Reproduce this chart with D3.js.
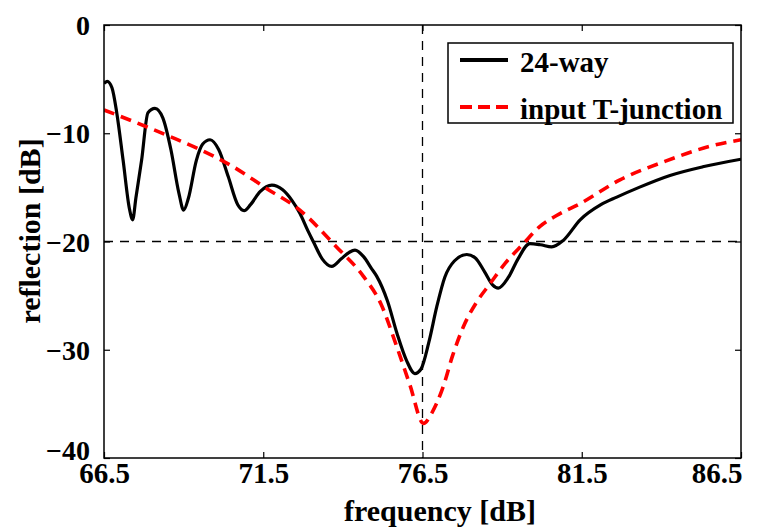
<!DOCTYPE html>
<html>
<head>
<meta charset="utf-8">
<script src="https://cdn.jsdelivr.net/npm/d3@7"></script>
<style>
  html, body { margin: 0; padding: 0; background: #fff; overflow: hidden; }
  svg { display: block; }
  svg text { font-family: 'Liberation Serif', 'Times New Roman', serif; font-weight: bold; fill: #000; }
</style>
</head>
<body>
<div id="chart"></div>
<script>
/* globals d3 */

// tick labels
const xTicks = [66.5, 71.5, 76.5, 81.5, 86.5]
const yTicks = [0, -10, -20, -30, -40]
const seriesNames = ['24-way', 'input T-junction']

// 24-way reflection
const wayFreq = [66.5, 66.6, 66.75, 66.9, 67.1, 67.3, 67.4, 67.5, 67.68, 67.88, 68.1, 68.35, 68.6, 68.85, 69.0,
  69.15, 69.4, 69.6, 69.83, 70.1, 70.4, 70.7, 70.9, 71.1, 71.4, 71.77, 72.1, 72.4, 72.65, 72.9, 73.07,
  73.35, 73.65, 73.95, 74.2, 74.38, 74.65, 74.9, 75.06, 75.4, 75.7, 76.0, 76.26, 76.45, 76.7, 76.95,
  77.2, 77.5, 77.89, 78.15, 78.45, 78.7, 78.88, 79.2, 79.5, 79.87, 80.2, 80.56, 80.92, 81.45, 82.1,
  82.6, 83.3, 84.27, 85.3, 86.5]
const wayDb = [-5.4, -5.2, -5.8, -8.1, -12.5, -17.0, -18.0, -16.0, -12.5, -8.1, -7.7, -8.6, -11.5, -15.5, -17.1,
  -16.0, -12.5, -11.0, -10.6, -11.5, -14.0, -16.6, -17.15, -16.6, -15.4, -14.8, -15.2, -16.2, -17.4, -19.0, -20.0,
  -21.6, -22.3, -21.6, -21.0, -20.8, -21.4, -22.5, -23.2, -25.5, -28.5, -31.0, -32.2, -31.8, -29.3, -26.0,
  -23.3, -21.8, -21.2, -21.5, -22.8, -24.0, -24.3, -23.3, -21.6, -20.2, -20.3, -20.5, -19.9, -18.0, -16.6,
  -15.9, -15.0, -13.9, -13.1, -12.4]

// input T-junction reflection
const tjFreq = [66.5, 67.5, 68.73, 69.51, 70.5, 71.6, 72.65, 73.8, 74.64, 75.2, 75.69, 76.1, 76.53, 76.8, 77.15,
  77.45, 77.78, 78.2, 78.62, 79.1, 79.67, 80.19, 80.71, 81.45, 82.7, 84.11, 85.53, 86.5]
const tjDb = [-7.85, -9.0, -10.5, -11.5, -13.0, -15.1, -17.1, -20.5, -23.2, -25.8, -29.7, -33.2, -36.8, -35.8, -33.4,
  -30.5, -27.9, -25.6, -23.9, -22.0, -20.2, -18.6, -17.6, -16.5, -14.3, -12.6, -11.2, -10.6]

// crosshair markers
const markFreq = 76.5
const markDb = -20

const width = 762
const height = 532
const margin = {left: 104, right: 21, top: 25, bottom: 74}
const innerWidth = width - margin.left - margin.right
const innerHeight = height - margin.top - margin.bottom

const svg = d3.select('#chart')
  .append('svg')
  .attr('width', width)
  .attr('height', height)

const x = d3.scaleLinear().domain([66.5, 86.5]).range([0, innerWidth])
const y = d3.scaleLinear().domain([-40, 0]).range([innerHeight, 0])

const g = svg.append('g')
  .attr('transform', 'translate(' + margin.left + ',' + margin.top + ')')

g.append('clipPath').attr('id', 'plot-clip')
  .append('rect')
  .attr('width', innerWidth)
  .attr('height', innerHeight)

// axes with inward ticks, MATLAB style
const fmtX = d3.format('.1f')
const xAxis = g.append('g')
  .attr('transform', 'translate(0,' + innerHeight + ')')
  .call(d3.axisBottom(x).tickValues(xTicks).tickSizeInner(-6).tickSizeOuter(0).tickFormat(fmtX))
xAxis.selectAll('text')
  .attr('y', 25)
  .attr('dy', 0)
  .style('font-size', '29px')
// last label sits inside the frame, as in the original
xAxis.selectAll('text')
  .filter(d => d === xTicks[xTicks.length - 1])
  .attr('text-anchor', 'end')
  .attr('x', 1)

const xTop = g.append('g')
  .call(d3.axisTop(x).tickValues(xTicks).tickSizeInner(-6).tickSizeOuter(0))
xTop.selectAll('text').remove()

const yAxis = g.append('g')
  .call(d3.axisLeft(y).tickValues(yTicks).tickSizeInner(-6).tickSizeOuter(0))
yAxis.selectAll('text')
  .attr('x', -14)
  .attr('dy', '0.34em')
  .style('font-size', '28px')
// lowest label is lifted clear of the x labels
yAxis.selectAll('text')
  .filter(d => d === yTicks[yTicks.length - 1])
  .attr('y', -8)

const yRight = g.append('g')
  .attr('transform', 'translate(' + innerWidth + ',0)')
  .call(d3.axisRight(y).tickValues(yTicks).tickSizeInner(-6).tickSizeOuter(0))
yRight.selectAll('text').remove()

g.selectAll('.domain').remove()
g.selectAll('.tick line').attr('stroke', '#000').attr('stroke-width', 1.2)

// crosshair
g.append('line')
  .attr('x1', x(markFreq)).attr('x2', x(markFreq))
  .attr('y1', 0).attr('y2', innerHeight)
  .attr('stroke', '#000').attr('stroke-width', 1.3)
  .attr('stroke-dasharray', '9,7')
g.append('line')
  .attr('x1', 0).attr('x2', innerWidth)
  .attr('y1', y(markDb)).attr('y2', y(markDb))
  .attr('stroke', '#000').attr('stroke-width', 1.3)
  .attr('stroke-dasharray', '9,7')

const line = d3.line()
  .x(d => x(d[0]))
  .y(d => y(d[1]))
  .curve(d3.curveMonotoneX)

const wayData = wayFreq.map((f, i) => [f, wayDb[i]])
const tjData = tjFreq.map((f, i) => [f, tjDb[i]])

const lines = g.append('g').attr('clip-path', 'url(#plot-clip)')
lines.append('path')
  .datum(wayData)
  .attr('d', line)
  .attr('fill', 'none')
  .attr('stroke', '#000')
  .attr('stroke-width', 3.2)
lines.append('path')
  .datum(tjData)
  .attr('d', line)
  .attr('fill', 'none')
  .attr('stroke', '#ff0000')
  .attr('stroke-width', 3.6)
  .attr('stroke-dasharray', '11,7')

// frame
g.append('rect')
  .attr('width', innerWidth)
  .attr('height', innerHeight)
  .attr('fill', 'none')
  .attr('stroke', '#000')
  .attr('stroke-width', 1.5)

// axis titles
svg.append('text')
  .attr('x', 440)
  .attr('y', 521)
  .attr('text-anchor', 'middle')
  .style('font-size', '30px')
  .text('frequency [dB]')

svg.append('text')
  .attr('transform', 'translate(40,231) rotate(-90)')
  .attr('text-anchor', 'middle')
  .style('font-size', '30px')
  .text('reflection [dB]')

// legend
const legend = svg.append('g').attr('transform', 'translate(448,43)')
legend.append('rect')
  .attr('width', 285)
  .attr('height', 80)
  .attr('fill', '#fff')
  .attr('stroke', '#000')
  .attr('stroke-width', 1.5)

const legendStyles = [
  {stroke: '#000', dash: null, width: 4},
  {stroke: '#ff0000', dash: '12,6', width: 4}
]
seriesNames.forEach((name, i) => {
  const ly = 17 + i * 47
  legend.append('line')
    .attr('x1', 12).attr('x2', 60)
    .attr('y1', ly).attr('y2', ly)
    .attr('stroke', legendStyles[i].stroke)
    .attr('stroke-width', legendStyles[i].width)
    .attr('stroke-dasharray', legendStyles[i].dash)
  legend.append('text')
    .attr('x', 72)
    .attr('y', ly + 12)
    .style('font-size', '29px')
    .text(name)
})
</script>
</body>
</html>
